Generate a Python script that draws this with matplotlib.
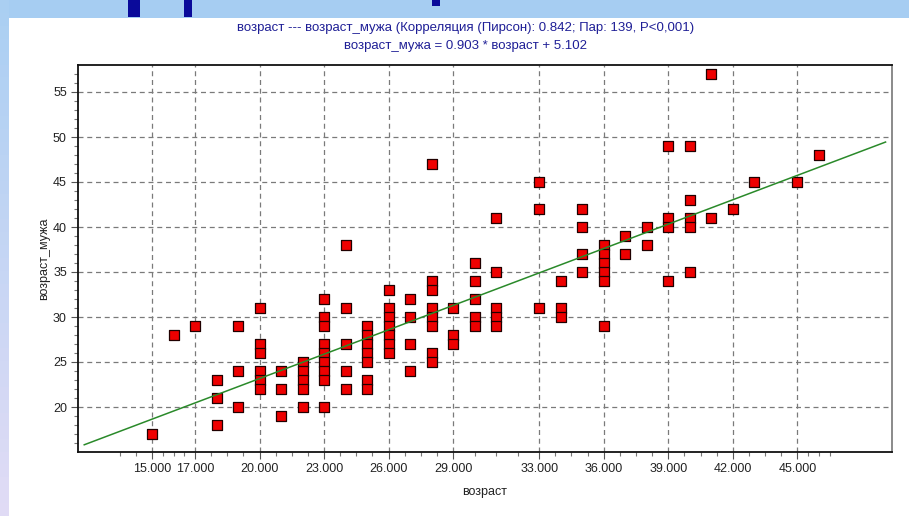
import matplotlib
matplotlib.use("Agg")
import matplotlib.pyplot as plt
from matplotlib.patches import Rectangle
from matplotlib.ticker import FixedLocator, NullFormatter

# --- data (x = возраст, list of возраст_мужа values at that x)
age_wife = [15, 16, 17, 18, 19, 20, 21, 22, 23, 24, 25, 26, 27, 28, 29, 30,
            31, 33, 34, 35, 36, 37, 38, 39, 40, 41, 42, 43, 45, 46]
age_husband = [
    [17], [28], [29], [23, 21, 18], [29, 24, 20],
    [31, 27, 26, 24, 23, 22], [24, 22, 19], [25, 24, 23, 22, 20],
    [32, 30, 29, 27, 26, 25, 24, 23, 20], [38, 31, 27, 24, 22],
    [29, 28, 27, 26, 25, 23, 22], [33, 31, 30, 29, 28, 27, 26],
    [32, 30, 27, 24], [47, 34, 33, 31, 30, 29, 26, 25], [31, 28, 27],
    [36, 34, 32, 30, 29], [41, 35, 31, 30, 29], [45, 42, 31], [34, 31, 30],
    [42, 40, 37, 35], [38, 37, 36, 35, 34, 29], [39, 37], [40, 38],
    [49, 41, 40, 34], [49, 43, 41, 40, 35], [57, 41], [42], [45], [45], [48],
]
slope, intercept = 0.903, 5.102
fit_range = [11.85, 49.1]
x_ticks = [15, 17, 20, 23, 26, 29, 33, 36, 39, 42, 45]
y_ticks = [20, 25, 30, 35, 40, 45, 50, 55]

title1 = "возраст --- возраст_мужа (Корреляция (Пирсон): 0.842; Пар: 139, P<0,001)"
title2 = "возраст_мужа = 0.903 * возраст + 5.102"

plt.rcParams["font.family"] = ["Liberation Sans", "DejaVu Sans"]

xs, ys = [], []
for a, hs in zip(age_wife, age_husband):
    for h in hs:
        xs.append(a)
        ys.append(h)

fig = plt.figure(figsize=(9.09, 5.16), dpi=100)
fig.patch.set_facecolor("white")

# slide decoration: blue band on top and a gradient strip on the left
band = 18
fig.patches.append(Rectangle((0, 1 - band / 516), 1, band / 516, transform=fig.transFigure,
                             facecolor="#a6cdf2", edgecolor="none", zorder=0))
c_bottom = (0.88, 0.86, 0.96)
c_top = (0.66, 0.81, 0.95)
for i in range(40):
    t = i / 40
    col = tuple(c_bottom[k] + (c_top[k] - c_bottom[k]) * t for k in range(3))
    fig.patches.append(Rectangle((0, t), 9 / 909, 1 / 40 + 0.001, transform=fig.transFigure,
                                 facecolor=col, edgecolor="none", zorder=0))
for x0, w, h in [(128, 12, 17), (184, 8, 17), (432, 8, 6)]:
    fig.patches.append(Rectangle((x0 / 909, 1 - h / 516), w / 909, h / 516,
                                 transform=fig.transFigure, facecolor="#0a0a9a",
                                 edgecolor="none", zorder=1))

ax = fig.add_axes([78 / 909, 1 - 452 / 516, (892 - 78) / 909, (452 - 65) / 516])
ax.set_facecolor("white")

ax.scatter(xs, ys, marker="s", s=60, facecolor="#ee0000", edgecolor="#200000",
           linewidths=0.9, zorder=3)
fit_y = [slope * v + intercept for v in fit_range]
ax.plot(fit_range, fit_y, color="#2a8a2a", lw=1.1, zorder=4)

ax.set_xlim(11.56, 49.4)
ax.set_ylim(15, 58)

ax.xaxis.set_major_locator(FixedLocator(x_ticks))
ax.set_xticklabels([f"{v}.000" for v in x_ticks])
minor_x = []
for a, b in zip(x_ticks[:-1], x_ticks[1:]):
    minor_x += [a + (b - a) * q / 4 for q in (1, 2, 3)]
minor_x += [13.5, 14.25, 45.5, 46.0, 46.5]
ax.xaxis.set_minor_locator(FixedLocator(minor_x))
ax.yaxis.set_major_locator(FixedLocator(y_ticks))
ax.yaxis.set_minor_locator(FixedLocator([v for v in range(16, 58) if v % 5]))
ax.xaxis.set_minor_formatter(NullFormatter())

ax.grid(True, which="major", color="#7a7a7a", linestyle=(0, (4, 3)), linewidth=0.9, zorder=1)
ax.set_axisbelow(True)

ax.tick_params(which="major", length=5, width=0.8, color="#555555", labelsize=9,
               labelcolor="#222222", pad=3)
ax.tick_params(which="minor", length=3, width=0.8, color="#777777")

for side in ("left", "bottom", "top"):
    ax.spines[side].set_color("#111111")
    ax.spines[side].set_linewidth(1.3)
ax.spines["right"].set_color("#777777")
ax.spines["right"].set_linewidth(1.2)

ax.set_xlabel("возраст", fontsize=9, color="#222222", labelpad=8)
ax.set_ylabel("возраст_мужа", fontsize=9, color="#222222", labelpad=2)

fig.text(466 / 909, 1 - 28 / 516, title1, ha="center", va="center", fontsize=9.5,
         color="#1f1f96")
fig.text(466 / 909, 1 - 46 / 516, title2, ha="center", va="center", fontsize=9.5,
         color="#1f1f96")

fig.savefig("out.png", dpi=100)
